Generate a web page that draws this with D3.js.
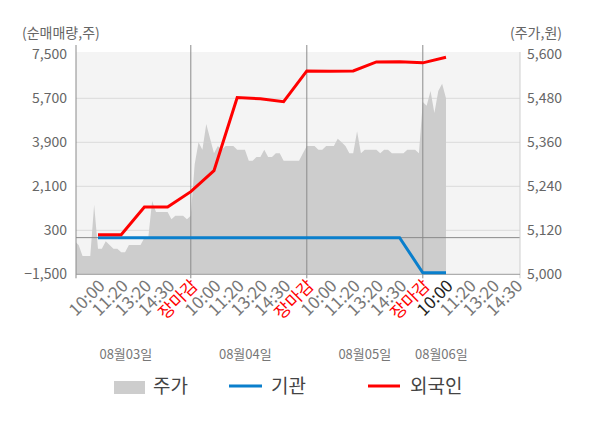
<!DOCTYPE html>
<html>
<head>
<meta charset="utf-8">
<script src="https://cdn.jsdelivr.net/npm/d3@7"></script>
<style>
  body { margin: 0; background: #fff; }
  text { font-family: "Noto Sans CJK KR", "Noto Sans", sans-serif; }
</style>
</head>
<body>
<script>
// tick labels of the category axis (one per slot)
var timeLabels = ["10:00", "11:20", "13:20", "14:30", "장마감",
                  "10:00", "11:20", "13:20", "14:30", "장마감",
                  "10:00", "11:20", "13:20", "14:30", "장마감",
                  "10:00", "11:20", "13:20", "14:30"];
var dates = ["08월03일", "08월04일", "08월05일", "08월06일"];

// net buying (주), one value per slot starting at the first 10:00
var foreign     = [120, 120, 1250, 1250, 1880, 2740, 5730, 5680, 5560, 6820, 6810, 6820, 7190, 7200, 7150, 7380];
var institution = [0, 0, 0, 0, 0, 0, 0, 0, 0, 0, 0, 0, 0, 0, -1440, -1440];

// share price (원), 6 samples per slot from market open
var price = [5090, 5080, 5050, 5050, 5050, 5190, 5070, 5070, 5090, 5080,
             5070, 5070, 5060, 5060, 5080, 5080, 5080, 5080, 5100, 5100,
             5200, 5170, 5170, 5170, 5170, 5150, 5160, 5160, 5160, 5150,
             5160,
             5300, 5360, 5340, 5410, 5370, 5330, 5350, 5340, 5350, 5350,
             5350, 5340, 5340, 5340, 5310, 5310, 5320, 5320, 5340, 5320,
             5320, 5330, 5330, 5310, 5310, 5310, 5310, 5310, 5330,
             5350, 5350, 5350, 5340, 5340, 5350, 5350, 5350, 5370, 5360,
             5350, 5330, 5330, 5390, 5330, 5340, 5340, 5340, 5340, 5330,
             5340, 5340, 5330, 5330, 5330, 5330, 5340, 5340, 5340, 5330,
             5470, 5460, 5500, 5440, 5500, 5520, 5480];

var leftTicks  = [-1500, 300, 2100, 3900, 5700, 7500];
var rightTicks = [5000, 5120, 5240, 5360, 5480, 5600];

var W = 600, H = 428;
var plot = {left: 76, right: 520, top: 52, bottom: 274.3};
var perSlot = 6;

var svg = d3.select("body").append("svg")
    .attr("width", W)
    .attr("height", H);

var xScale = d3.scaleLinear()
    .domain([0, 15])
    .range([74.8, 422.8]);

var yLeft = d3.scaleLinear()
    .domain([-1500, 7500])
    .range([plot.bottom, 54.3]);

var yRight = d3.scaleLinear()
    .domain([5000, 5600])
    .range([plot.bottom, 54.3]);

svg.append("defs").append("clipPath")
    .attr("id", "clip")
    .append("rect")
    .attr("x", plot.left)
    .attr("y", plot.top)
    .attr("width", plot.right - plot.left)
    .attr("height", plot.bottom - plot.top);

// plot background
svg.append("rect")
    .attr("x", plot.left)
    .attr("y", plot.top)
    .attr("width", plot.right - plot.left)
    .attr("height", plot.bottom - plot.top)
    .style("fill", "#f4f4f4");

// horizontal grid
svg.selectAll(".grid")
    .data(leftTicks.slice(1, 5))
    .enter()
    .append("line")
    .attr("x1", plot.left)
    .attr("x2", plot.right)
    .attr("y1", function(d) { return yLeft(d) })
    .attr("y2", function(d) { return yLeft(d) })
    .style("stroke", "#dadada")
    .style("stroke-width", 1);

// price area
var area = d3.area()
    .x(function(d, i) { return xScale(i / perSlot) })
    .y0(yRight(5000))
    .y1(function(d) { return yRight(d) });

svg.append("path")
    .datum(price)
    .attr("clip-path", "url(#clip)")
    .attr("d", area)
    .style("fill", "#cdcdcd");

// zero line of the left axis
svg.append("line")
    .attr("x1", plot.left)
    .attr("x2", plot.right)
    .attr("y1", yLeft(0))
    .attr("y2", yLeft(0))
    .style("stroke", "#8a8a8a")
    .style("stroke-width", 1);

// day separators (every 장마감)
var dayEnds = [5, 10, 15];
svg.selectAll(".sep")
    .data(dayEnds)
    .enter()
    .append("line")
    .attr("x1", function(d) { return xScale(d) })
    .attr("x2", function(d) { return xScale(d) })
    .attr("y1", 45)
    .attr("y2", plot.bottom + 4)
    .style("stroke", "#8a8a8a")
    .style("stroke-width", 1);

// axes lines
svg.append("line")
    .attr("x1", plot.left).attr("x2", plot.left)
    .attr("y1", 45).attr("y2", plot.bottom + 4)
    .style("stroke", "#8a8a8a");
svg.append("line")
    .attr("x1", plot.right).attr("x2", plot.right)
    .attr("y1", plot.top).attr("y2", plot.bottom + 4)
    .style("stroke", "#cfcfcf");
svg.append("line")
    .attr("x1", plot.left).attr("x2", plot.right)
    .attr("y1", plot.bottom).attr("y2", plot.bottom)
    .style("stroke", "#9a9a9a");

// net buying lines
var line = d3.line()
    .x(function(d, i) { return xScale(i + 1) })
    .y(function(d) { return yLeft(d) });

svg.append("path")
    .datum(institution)
    .attr("d", line)
    .style("fill", "none")
    .style("stroke", "#0a7fcc")
    .style("stroke-width", 3);

svg.append("path")
    .datum(foreign)
    .attr("d", line)
    .style("fill", "none")
    .style("stroke", "#ff0000")
    .style("stroke-width", 3);

// left axis labels
var fmt = d3.format(",");
svg.selectAll(".ltick")
    .data(leftTicks)
    .enter()
    .append("text")
    .attr("x", 67)
    .attr("y", function(d) { return yLeft(d) })
    .attr("dy", "0.35em")
    .attr("text-anchor", "end")
    .style("font-size", "14px")
    .style("fill", "#666")
    .text(function(d) { return fmt(d) });

// right axis labels
svg.selectAll(".rtick")
    .data(rightTicks)
    .enter()
    .append("text")
    .attr("x", 527)
    .attr("y", function(d) { return yRight(d) })
    .attr("dy", "0.35em")
    .style("font-size", "14px")
    .style("fill", "#666")
    .text(function(d) { return fmt(d) });

svg.append("text")
    .attr("x", 22).attr("y", 38)
    .style("font-size", "14px").style("fill", "#666")
    .text("(순매매량,주)");
svg.append("text")
    .attr("x", 562).attr("y", 38)
    .attr("text-anchor", "end")
    .style("font-size", "14px").style("fill", "#666")
    .text("(주가,원)");

// category labels
svg.selectAll(".xlab")
    .data(timeLabels)
    .enter()
    .append("text")
    .attr("text-anchor", "end")
    .attr("transform", function(d, i) {
        return "translate(" + (xScale(i + 1) + 8) + "," + 287 + ") rotate(-45)";
    })
    .style("font-size", "17px")
    .style("fill", function(d, i) {
        if (d == "장마감") return "#ff0000";
        if (i == 15) return "#222";
        return "#777";
    })
    .text(function(d) { return d });

// date labels
var datePos = [2.2, 7.35, 12.5, 15.8];
svg.selectAll(".date")
    .data(dates)
    .enter()
    .append("text")
    .attr("x", function(d, i) { return xScale(datePos[i]) })
    .attr("y", 359)
    .attr("text-anchor", "middle")
    .style("font-size", "13px")
    .style("fill", "#777")
    .text(function(d) { return d });

// legend
var legend = svg.append("g");
legend.append("rect")
    .attr("x", 114).attr("y", 381)
    .attr("width", 31).attr("height", 13)
    .style("fill", "#cdcdcd");
legend.append("text")
    .attr("x", 153).attr("y", 393)
    .style("font-size", "19px").style("fill", "#444")
    .text("주가");
legend.append("line")
    .attr("x1", 229).attr("x2", 262)
    .attr("y1", 386).attr("y2", 386)
    .style("stroke", "#0a7fcc").style("stroke-width", 3);
legend.append("text")
    .attr("x", 271).attr("y", 393)
    .style("font-size", "19px").style("fill", "#444")
    .text("기관");
legend.append("line")
    .attr("x1", 368).attr("x2", 400)
    .attr("y1", 386).attr("y2", 386)
    .style("stroke", "#ff0000").style("stroke-width", 3);
legend.append("text")
    .attr("x", 410).attr("y", 393)
    .style("font-size", "19px").style("fill", "#444")
    .text("외국인");
</script>
</body>
</html>
